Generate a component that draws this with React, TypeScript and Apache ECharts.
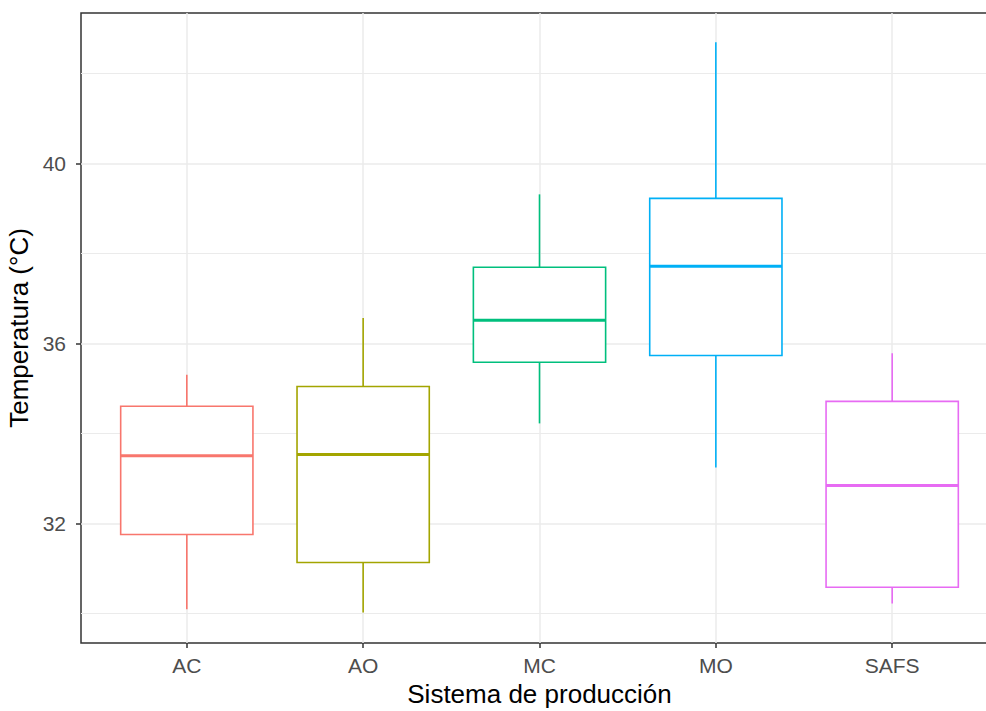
import React, { useEffect, useRef } from "react";
import * as echarts from "echarts";

const categories = ["AC", "AO", "MC", "MO", "SAFS"];
const mins = [30.09, 30.02, 34.22, 33.24, 30.22];
const q1s = [31.75, 31.13, 35.58, 35.73, 30.58];
const medians = [33.5, 33.53, 36.51, 37.71, 32.84];
const q3s = [34.6, 35.04, 37.69, 39.22, 34.71];
const maxs = [35.3, 36.56, 39.31, 42.69, 35.78];
const colors = ["#F8766D", "#A3A500", "#00BF7D", "#00B0F6", "#E76BF3"];
const yMajorTicks = [32, 36, 40];
const yMinorTicks = [30, 34, 38, 42];
const xPositions = [1, 2, 3, 4, 5];

const FONT = "'Liberation Sans', Arial, sans-serif";

export default function App() {
  const ref = useRef<HTMLDivElement>(null);
  useEffect(() => {
    if (!ref.current) return;
    const chart = echarts.init(ref.current, undefined, { renderer: "svg" });
    const data = categories.map((c, i) => [
      xPositions[i],
      mins[i],
      q1s[i],
      medians[i],
      q3s[i],
      maxs[i],
      i,
    ]);
    chart.setOption({
      animation: false,
      backgroundColor: "#ffffff",
      grid: {
        left: 81,
        top: 13,
        width: 917,
        height: 630,
        show: true,
        borderColor: "#333333",
        borderWidth: 1.5,
        backgroundColor: "transparent",
        containLabel: false,
        outerBoundsMode: "none",
      },
      xAxis: {
        type: "value",
        min: 0.4,
        max: 5.6,
        name: "Sistema de producción",
        nameLocation: "middle",
        nameGap: 38,
        nameTextStyle: { fontFamily: FONT, fontSize: 26, color: "#000000" },
        axisLine: { show: false },
        axisTick: {
          show: true,
          customValues: xPositions,
          length: 5,
          lineStyle: { color: "#333333", width: 1.5 },
        },
        axisLabel: {
          customValues: xPositions,
          formatter: (v: number) => categories[Math.round(v) - 1] ?? "",
          fontFamily: FONT,
          fontSize: 21,
          color: "#4D4D4D",
          margin: 12,
        },
        splitLine: { show: true, lineStyle: { color: "#EBEBEB", width: 1.5 } },
      },
      yAxis: [
        {
          type: "value",
          min: 29.34,
          max: 43.34,
          name: "Temperatura (°C)",
          nameLocation: "middle",
          nameGap: 46,
          nameTextStyle: { fontFamily: FONT, fontSize: 26, color: "#000000" },
          axisLine: { show: false },
          axisTick: {
            show: true,
            customValues: yMajorTicks,
            length: 5,
            lineStyle: { color: "#333333", width: 1.5 },
          },
          axisLabel: {
            customValues: yMajorTicks,
            fontFamily: FONT,
            fontSize: 21,
            color: "#4D4D4D",
            margin: 15,
          },
          splitLine: { show: true, lineStyle: { color: "#EBEBEB", width: 1.5 } },
        },
        {
          type: "value",
          min: 29.34,
          max: 43.34,
          axisLine: { show: false },
          axisTick: { show: false, customValues: yMinorTicks },
          axisLabel: { show: false, customValues: yMinorTicks },
          splitLine: { show: true, lineStyle: { color: "#EBEBEB", width: 1 } },
        },
      ],
      series: [
        {
          type: "custom",
          xAxisIndex: 0,
          yAxisIndex: 0,
          data,
          renderItem: (params: any, api: any) => {
            const x = api.value(0);
            const idx = api.value(6);
            const color = colors[idx];
            const [cx, yMin] = api.coord([x, api.value(1)]);
            const yQ1 = api.coord([x, api.value(2)])[1];
            const yMed = api.coord([x, api.value(3)])[1];
            const yQ3 = api.coord([x, api.value(4)])[1];
            const yMax = api.coord([x, api.value(5)])[1];
            const halfW = api.size([0.75, 0])[0] / 2;
            return {
              type: "group",
              children: [
                {
                  type: "line",
                  shape: { x1: cx, y1: yMax, x2: cx, y2: yQ3 },
                  style: { stroke: color, lineWidth: 1.6 },
                },
                {
                  type: "line",
                  shape: { x1: cx, y1: yQ1, x2: cx, y2: yMin },
                  style: { stroke: color, lineWidth: 1.6 },
                },
                {
                  type: "rect",
                  shape: { x: cx - halfW, y: yQ3, width: 2 * halfW, height: yQ1 - yQ3 },
                  style: { fill: "#ffffff", stroke: color, lineWidth: 1.6 },
                },
                {
                  type: "line",
                  shape: { x1: cx - halfW, y1: yMed, x2: cx + halfW, y2: yMed },
                  style: { stroke: color, lineWidth: 3 },
                },
              ],
            };
          },
        },
      ],
    });
    return () => chart.dispose();
  }, []);
  return (
    <div
      ref={ref}
      style={{ position: "fixed", left: 0, top: 0, width: 986, height: 711 }}
    />
  );
}
